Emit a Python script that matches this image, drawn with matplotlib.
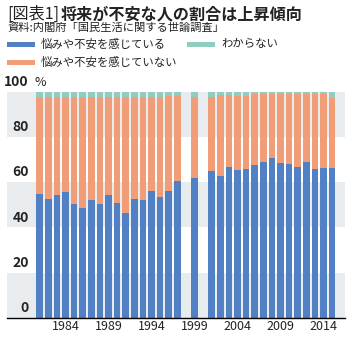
import numpy as np
import matplotlib
matplotlib.use("Agg")
import matplotlib.pyplot as plt
from matplotlib.patches import Rectangle

plt.rcParams['font.family'] = ['Noto Sans CJK JP', 'DejaVu Sans']

# survey years (no survey in 1998 and 2000)
years = [1981, 1982, 1983, 1984, 1985, 1986, 1987, 1988, 1989, 1990,
         1991, 1992, 1993, 1994, 1995, 1996, 1997, 1999,
         2001, 2002, 2003, 2004, 2005, 2006, 2007, 2008, 2009, 2010,
         2011, 2012, 2013, 2014, 2015]
# 悩みや不安を感じている (%)
worried = [54.7, 52.7, 54.2, 55.6, 50.4, 48.7, 52.2, 50.4, 54.4, 50.9,
           46.5, 52.7, 52.2, 56.2, 53.5, 56.2, 60.5, 61.9,
           64.9, 62.8, 66.8, 65.4, 65.9, 67.6, 69.0, 70.7, 68.6, 68.1,
           66.8, 68.9, 65.9, 66.2, 66.2]
# わからない (%)
unknown = [2.4, 2.2, 2.2, 2.2, 2.2, 2.2, 2.2, 2.2, 2.3, 2.3,
           2.4, 2.3, 2.2, 2.2, 2.2, 2.1, 2.0, 2.2,
           2.5, 1.5, 1.5, 1.8, 1.9, 1.0, 1.2, 0.9, 1.0, 1.0,
           1.2, 0.8, 1.2, 1.0, 2.7]
# 悩みや不安を感じていない (%)
not_worried = [100 - w - u for w, u in zip(worried, unknown)]

tick_years = [1984, 1989, 1994, 1999, 2004, 2009, 2014]
y_labels = [0, 20, 40, 60, 80, 100]

c_blue = '#5181c4'
c_orange = '#f09d78'
c_teal = '#8ecdbf'
c_band = '#e9ecef'

fig = plt.figure(figsize=(3.53, 3.42), dpi=100)
ax = fig.add_axes([7 / 353, (342 - 317.7) / 342, 338 / 353, 226 / 342])

ax.set_xlim(1977.2, 2016.5)
ax.set_ylim(0, 100)

# alternating background bands
for lo in (0, 40, 80):
    ax.axhspan(lo, lo + 20, color=c_band, lw=0, zorder=0)

w = 0.76
ax.bar(years, worried, width=w, color=c_blue, lw=0, zorder=2)
ax.bar(years, not_worried, width=w, bottom=worried, color=c_orange, lw=0, zorder=2)
bot2 = [a + b for a, b in zip(worried, not_worried)]
ax.bar(years, unknown, width=w, bottom=bot2, color=c_teal, lw=0, zorder=2)

for s in ('top', 'right', 'left'):
    ax.spines[s].set_visible(False)
ax.spines['bottom'].set_color('black')
ax.spines['bottom'].set_linewidth(1.0)
ax.spines['bottom'].set_zorder(3)

ax.set_yticks([])
ax.set_xticks(tick_years)
ax.set_xticklabels([str(y) for y in tick_years], fontsize=9, color='#222222')
ax.tick_params(axis='x', length=0, pad=2)

# y labels drawn inside the plot, just above each band line
for v in y_labels:
    ax.annotate(str(v), xy=(0.065, v), xycoords=('axes fraction', 'data'),
                xytext=(0, 2), textcoords='offset points',
                ha='right', va='bottom', fontsize=10, fontweight='bold',
                color='#222222', zorder=4)
ax.annotate('%', xy=(0.08, 100), xycoords=('axes fraction', 'data'),
            xytext=(0, 2), textcoords='offset points',
            ha='left', va='bottom', fontsize=9, color='#222222')

# title and source
fig.text(7 / 353, 1 - 14 / 342, '[図表1]', fontsize=11.6, va='center', ha='left',
         color='#222222')
fig.text(61 / 353, 1 - 14 / 342, '将来が不安な人の割合は上昇傾向', fontsize=11.6,
         fontweight='bold', va='center', ha='left', color='#222222')
fig.text(7 / 353, 1 - 28 / 342, '資料:内閣府「国民生活に関する世論調査」',
         fontsize=8.1, va='center', ha='left', color='#222222')

# legend
legend_items = [
    (7, 44, c_blue, '悩みや不安を感じている'),
    (187, 44, c_teal, 'わからない'),
    (7, 62, c_orange, '悩みや不安を感じていない'),
]
for x0, yc, col, lab in legend_items:
    fig.patches.append(Rectangle((x0 / 353, 1 - (yc + 2.5) / 342), 28 / 353, 5 / 342,
                                 transform=fig.transFigure, color=col, lw=0))
    fig.text((x0 + 34) / 353, 1 - yc / 342, lab, fontsize=8.2, va='center',
             ha='left', color='#222222')

fig.savefig('out.png', dpi=100)
